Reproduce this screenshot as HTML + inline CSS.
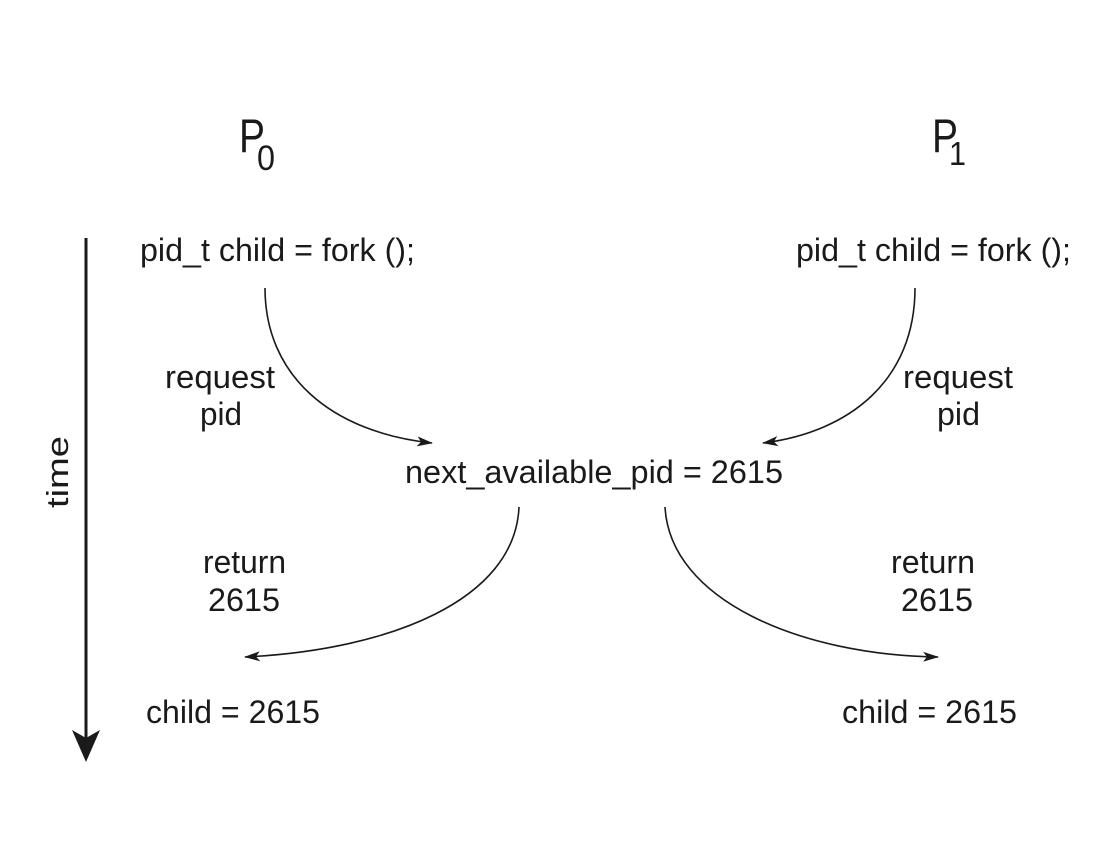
<!DOCTYPE html>
<html><head><meta charset="utf-8"><style>
html,body{margin:0;padding:0;background:#fff;}
svg{display:block;}
text{font-family:"Liberation Sans",Arial,sans-serif;fill:#1a1a1a;}
</style></head><body>
<svg width="1116" height="848" viewBox="0 0 1116 848">
<defs>
<marker id="ah" markerWidth="16" markerHeight="10" refX="15" refY="5" orient="auto" markerUnits="userSpaceOnUse">
<path d="M0,0 L16,5 L0,10 L4,5 Z" fill="#1a1a1a"/>
</marker>
</defs>
<g>
<text x="239" y="152" font-size="47" textLength="26" lengthAdjust="spacingAndGlyphs">P</text>
<text x="257" y="170" font-size="35" textLength="18" lengthAdjust="spacingAndGlyphs">0</text>
</g>
<g>
<text x="932" y="152" font-size="47" textLength="26" lengthAdjust="spacingAndGlyphs">P</text>
<text x="949" y="165" font-size="33" textLength="17" lengthAdjust="spacingAndGlyphs">1</text>
</g>
<g>
<line x1="86" y1="238" x2="86" y2="740" stroke="#1a1a1a" stroke-width="3"/>
<path d="M72,730 L86,762 L100,730 L86,738 Z" fill="#1a1a1a"/>
<text x="0" y="0" transform="translate(68,472) rotate(-90)" text-anchor="middle" font-size="31" textLength="72" lengthAdjust="spacingAndGlyphs">time</text>
</g>
<g font-size="32">
<text x="140" y="261" textLength="275" lengthAdjust="spacingAndGlyphs">pid_t child = fork ();</text>
<text x="796" y="261" textLength="275" lengthAdjust="spacingAndGlyphs">pid_t child = fork ();</text>
<text x="165" y="388" textLength="110" lengthAdjust="spacingAndGlyphs">request</text>
<text x="200" y="425" textLength="42" lengthAdjust="spacingAndGlyphs">pid</text>
<text x="903" y="388" textLength="110" lengthAdjust="spacingAndGlyphs">request</text>
<text x="937" y="425" textLength="43" lengthAdjust="spacingAndGlyphs">pid</text>
<text x="405" y="483" textLength="378" lengthAdjust="spacingAndGlyphs">next_available_pid = 2615</text>
<text x="203" y="573" textLength="83" lengthAdjust="spacingAndGlyphs">return</text>
<text x="208" y="611" textLength="72" lengthAdjust="spacingAndGlyphs">2615</text>
<text x="891" y="573" textLength="84" lengthAdjust="spacingAndGlyphs">return</text>
<text x="901" y="611" textLength="72" lengthAdjust="spacingAndGlyphs">2615</text>
<text x="146" y="723" textLength="174" lengthAdjust="spacingAndGlyphs">child = 2615</text>
<text x="842" y="723" textLength="175" lengthAdjust="spacingAndGlyphs">child = 2615</text>
</g>
<g fill="none" stroke="#1a1a1a" stroke-width="1.6">
<path d="M265,288 C265,375 330,432 432,443" marker-end="url(#ah)"/>
<path d="M915,288 C915,380 850,432 763,443" marker-end="url(#ah)"/>
<path d="M519,507 C515,600 390,650 245,657" marker-end="url(#ah)"/>
<path d="M665,507 C670,600 800,655 938,657" marker-end="url(#ah)"/>
</g>
</svg>
</body></html>
